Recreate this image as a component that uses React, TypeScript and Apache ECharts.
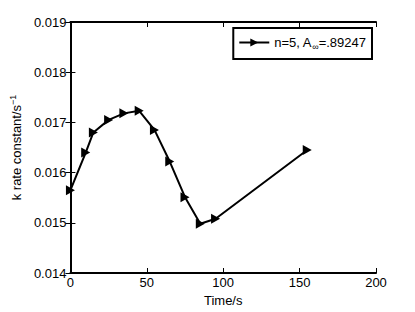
import React, { useEffect, useRef } from "react";
import * as echarts from "echarts";

const times = [0, 10, 15, 25, 35, 45, 55, 65, 75, 85, 95, 155];
const kValues = [0.01565, 0.0164, 0.0168, 0.01705, 0.01718, 0.01723, 0.01685, 0.01622, 0.01551, 0.01498, 0.01508, 0.01645];
const seriesName = "n=5, A∞=.89247";
const xLabel = "Time/s";

const FONT = "Liberation Sans, Arial, sans-serif";

export default function App() {
  const ref = useRef<HTMLDivElement>(null);
  useEffect(() => {
    if (!ref.current) return;
    document.body.style.margin = "0";
    const chart = echarts.init(ref.current, null, { renderer: "svg" });
    const axisLine = { show: true, lineStyle: { color: "#000", width: 2 } };
    const tick = { show: true, inside: true, length: 5, lineStyle: { color: "#000", width: 1 } };
    chart.setOption({
      animation: false,
      backgroundColor: "#fff",
      textStyle: { fontFamily: FONT },
      grid: { left: 66, right: 39, top: 22, bottom: 37, containLabel: false },
      legend: {
        show: true,
        right: 43,
        top: 28,
        orient: "horizontal",
        backgroundColor: "#fff",
        borderColor: "#000",
        borderWidth: 2,
        borderRadius: 0,
        padding: [8, 6, 8, 5],
        itemWidth: 30,
        itemHeight: 10,
        itemGap: 4,
        data: [seriesName],
        formatter: () => "n=5, A{sub|∞}=.89247",
        textStyle: {
          fontFamily: FONT,
          fontSize: 13,
          color: "#000",
          rich: {
            sub: { fontSize: 9, verticalAlign: "bottom", padding: [8, 0, 0, 0], fontFamily: FONT, color: "#000" },
          },
        },
      },
      xAxis: [
        {
          type: "value",
          min: 0,
          max: 200,
          interval: 50,
          name: xLabel,
          nameLocation: "middle",
          nameGap: 21,
          nameTextStyle: { fontSize: 13, color: "#000", fontFamily: FONT },
          axisLine,
          axisTick: tick,
          axisLabel: { color: "#000", fontSize: 13, margin: 3, fontFamily: FONT },
          splitLine: { show: false },
        },
        {
          type: "value",
          position: "top",
          min: 0,
          max: 200,
          interval: 50,
          axisLine,
          axisTick: tick,
          axisLabel: { show: false },
          splitLine: { show: false },
        },
      ],
      yAxis: [
        {
          type: "value",
          min: 0.014,
          max: 0.019,
          interval: 0.001,
          name: "k rate constant/s{sup|−1}",
          nameLocation: "middle",
          nameRotate: 90,
          nameGap: 44,
          nameTextStyle: {
            fontSize: 13,
            color: "#000",
            fontFamily: FONT,
            rich: { sup: { fontSize: 9, verticalAlign: "top", padding: [0, 0, 8, 0], color: "#000", fontFamily: FONT } },
          },
          axisLine,
          axisTick: tick,
          axisLabel: {
            color: "#000",
            fontSize: 13,
            margin: 4,
            fontFamily: FONT,
            formatter: (v: number) => v.toFixed(3),
          },
          splitLine: { show: false },
        },
        {
          type: "value",
          position: "right",
          min: 0.014,
          max: 0.019,
          interval: 0.001,
          axisLine,
          axisTick: tick,
          axisLabel: { show: false },
          splitLine: { show: false },
        },
      ],
      series: [
        {
          name: seriesName,
          type: "line",
          xAxisIndex: 0,
          yAxisIndex: 0,
          data: times.map((t, i) => [t, kValues[i]]),
          symbol: "path://M0,0 L10,5 L0,10 Z",
          symbolSize: [9, 10],
          showSymbol: true,
          lineStyle: { color: "#000", width: 2 },
          itemStyle: { color: "#000", borderColor: "#000", borderWidth: 0 },
        },
      ],
    });
    return () => chart.dispose();
  }, []);
  return <div ref={ref} style={{ width: 415, height: 312 }} />;
}
